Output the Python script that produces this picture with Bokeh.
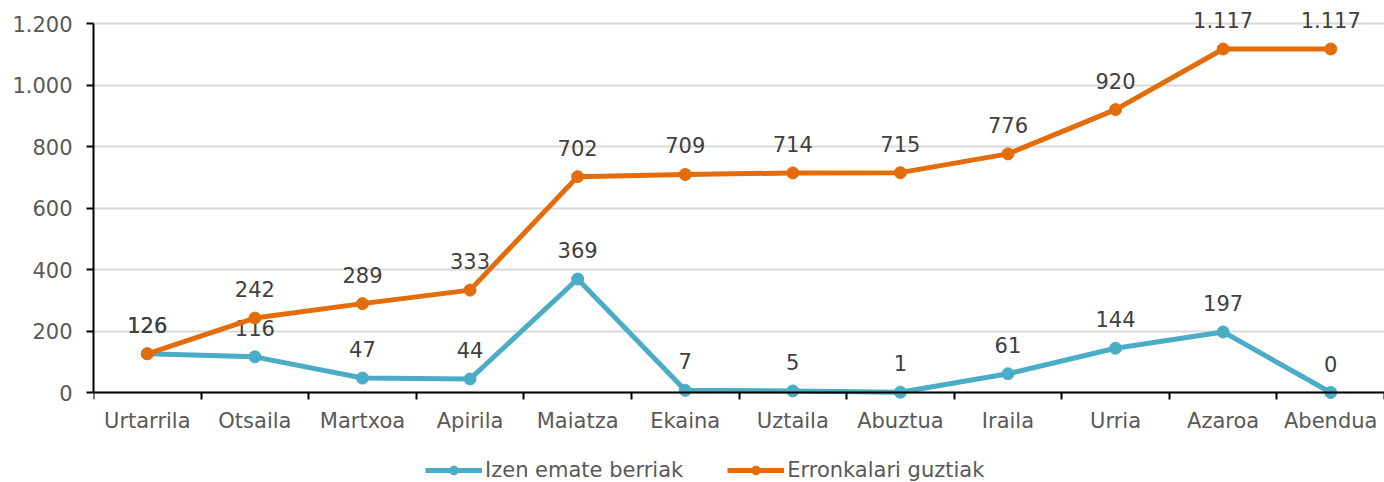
from bokeh.plotting import figure
from bokeh.layouts import column
from bokeh.models import FixedTicker, Legend, LegendItem, ColumnDataSource, Range1d, LinearAxis
from bokeh.core.properties import value
from bokeh.embed import file_html
from bokeh.resources import INLINE

months = ["Urtarrila", "Otsaila", "Martxoa", "Apirila", "Maiatza", "Ekaina",
          "Uztaila", "Abuztua", "Iraila", "Urria", "Azaroa", "Abendua"]
izen_emate = [126, 116, 47, 44, 369, 7, 5, 1, 61, 144, 197, 0]
erronkalari = [126, 242, 289, 333, 702, 709, 714, 715, 776, 920, 1117, 1117]
y_ticks = [0, 200, 400, 600, 800, 1000, 1200]
series_names = ["Izen emate berriak", "Erronkalari guztiak"]

BLUE = "#4BACC6"
ORANGE = "#E46C0A"
FONT = "DejaVu Sans"
FS = "21px"


def fmt(v):
    return f"{v:,}".replace(",", ".")


xs = list(range(len(months)))
sources = [ColumnDataSource(dict(x=xs, y=vals, lbl=[fmt(v) for v in vals]))
           for vals in (izen_emate, erronkalari)]
colors = [BLUE, ORANGE]

p = figure(width=1384, height=450, output_backend="svg", toolbar_location=None,
           x_range=Range1d(-0.5, len(months) - 0.5), y_range=Range1d(-26, 1274.8),
           x_axis_type=None,
           min_border_left=93, min_border_right=0, min_border_top=0, min_border_bottom=50)
p.outline_line_color = None
p.background_fill_color = "white"
p.border_fill_color = "white"

# grid
p.xgrid.grid_line_color = None
p.ygrid.grid_line_color = "#D9D9D9"
p.ygrid.grid_line_width = 2
p.ygrid.ticker = FixedTicker(ticks=y_ticks)

# y axis
p.yaxis.ticker = FixedTicker(ticks=y_ticks)
p.yaxis.bounds = (0, 1200)
p.yaxis.major_label_overrides = {t: fmt(t) for t in y_ticks}
p.yaxis.axis_line_color = "black"
p.yaxis.axis_line_width = 2
p.yaxis.major_tick_line_color = "black"
p.yaxis.major_tick_line_width = 2
p.yaxis.major_tick_out = 7
p.yaxis.major_tick_in = 0
p.yaxis.minor_tick_line_color = None
p.yaxis.major_label_text_font = FONT
p.yaxis.major_label_text_font_size = FS
p.yaxis.major_label_text_color = "#595959"
p.yaxis.major_label_standoff = 14

# x axis line + boundary ticks at y = 0
bounds = [i - 0.5 for i in range(len(months) + 1)]
xline = LinearAxis(fixed_location=0, ticker=FixedTicker(ticks=[], minor_ticks=bounds),
                   axis_line_color="black", axis_line_width=2,
                   major_tick_line_color=None, major_label_text_font_size="0px",
                   minor_tick_line_color="black", minor_tick_line_width=2,
                   minor_tick_out=7, minor_tick_in=0)
p.add_layout(xline, "below")

# x category labels
xlab = LinearAxis(ticker=FixedTicker(ticks=xs),
                  major_label_overrides={i: m for i, m in enumerate(months)},
                  axis_line_color=None, major_tick_line_color=None, minor_tick_line_color=None,
                  major_tick_out=0, major_tick_in=0,
                  major_label_text_font=FONT, major_label_text_font_size=FS,
                  major_label_text_color="#595959", major_label_standoff=8)
p.add_layout(xlab, "below")

for src, color in zip(sources, colors):
    p.line("x", "y", source=src, line_color=color, line_width=5)
    p.scatter("x", "y", source=src, size=12, fill_color=color, line_color=color)
    p.text("x", "y", text="lbl", source=src, text_align="center", text_baseline="middle",
           y_offset=-29, text_font=value(FONT), text_font_size=FS, text_color="#404040")

# legend strip (its renderers hold the same series, kept out of view)
p2 = figure(width=1384, height=32, output_backend="svg", toolbar_location=None,
            x_range=Range1d(0, 1), y_range=Range1d(-2, -1), x_axis_type=None, y_axis_type=None,
            min_border_left=0, min_border_right=0, min_border_top=0, min_border_bottom=0)
p2.outline_line_color = None
p2.xgrid.grid_line_color = None
p2.ygrid.grid_line_color = None
items = []
for src, color, name in zip(sources, colors, series_names):
    ln = p2.line("x", "y", source=src, line_color=color, line_width=5)
    sc = p2.scatter("x", "y", source=src, size=14, fill_color=color, line_color=color)
    items.append(LegendItem(label=name, renderers=[ln, sc]))
legend = Legend(items=items, orientation="horizontal", location=(332, 0),
                label_text_font=FONT, label_text_font_size=FS, label_text_color="#595959",
                glyph_width=57, glyph_height=22, label_standoff=3, spacing=44,
                padding=0, margin=0, border_line_color=None, background_fill_alpha=0)
p2.add_layout(legend, "center")

layout = column(p, p2, spacing=0)
open("out.html", "w").write(file_html(layout, INLINE))
